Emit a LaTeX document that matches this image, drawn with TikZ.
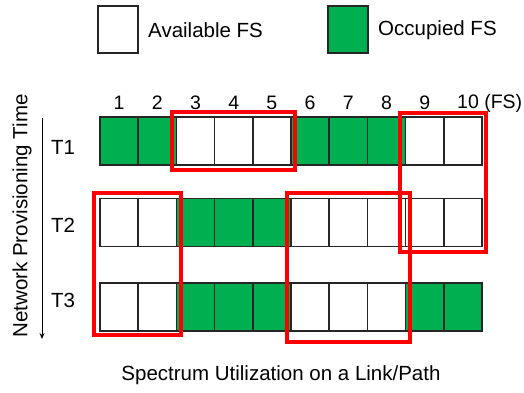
\documentclass[tikz,border=0pt]{standalone}
\usepackage{fontspec}
\setmainfont{Liberation Sans}
\usetikzlibrary{arrows.meta}
\definecolor{occ}{RGB}{0,176,80}
\definecolor{redbox}{RGB}{255,0,0}
\begin{document}
\begin{tikzpicture}[x=1pt,y=-1pt,
  cell/.style={draw=black!85,line width=1.5pt,minimum width=38.2pt,minimum height=48pt,inner sep=0pt,outer sep=0pt},
  occupied/.style={cell,fill=occ},
  avail/.style={cell,fill=white},
  lbl/.style={font=\fontsize{20.5}{24}\selectfont,inner sep=0pt},
  numlbl/.style={font=\fontsize{19.5}{23}\selectfont,inner sep=0pt},
  sel/.style={draw=redbox,line width=3.2pt}]
\useasboundingbox (0,0) rectangle (524,392);
% legend
\node[avail,minimum width=40pt,minimum height=47pt] (la) at (118,29.5) {};
\node[lbl,anchor=west] (lat) at (148,30) {Available FS};
\node[occupied,minimum width=40pt,minimum height=47pt] (lo) at (348,29.5) {};
\node[lbl,anchor=west] (lot) at (378,30) {Occupied FS};
% numbers
\foreach \i in {1,...,9}{
  \node[numlbl] (n\i) at ({100+38.2*(\i-0.5)},103) {\i};
}
\node[numlbl,anchor=west] (n10) at (457,103) {10 (FS)};
% rows
\foreach \r/\y/\pat in {1/141/{1,1,0,0,0,1,1,1,0,0},2/222.5/{0,0,1,1,1,0,0,0,0,0},3/307/{0,0,1,1,1,0,0,0,1,1}}{
  \foreach \v [count=\i] in \pat{
    \ifnum\v=1
      \node[occupied] (c\r-\i) at ({100+38.2*(\i-0.5)},\y) {};
    \else
      \node[avail] (c\r-\i) at ({100+38.2*(\i-0.5)},\y) {};
    \fi
  }
}
\node[lbl] (t1) at (63,147) {T1};
\node[lbl] (t2) at (63,225) {T2};
\node[lbl] (t3) at (63,300) {T3};
% red selection boxes
\draw[sel] (172,112) rectangle (295,170);
\draw[sel] (400,113) rectangle (486,252);
\draw[sel] (94,193) rectangle (181,335);
\draw[sel] (287,193) rectangle (410,342);
% time axis
\coordinate (ta) at (42,118);
\coordinate (tb) at (42,339);
\draw[line width=1pt,-{Stealth[length=6pt,width=5pt]}] (ta) -- (tb);
\node[lbl,rotate=90] (nt) at (22,216) {Network Provisioning Time};
\node[lbl] (xl) at (281,375) {Spectrum Utilization on a Link/Path};
\end{tikzpicture}
\end{document}
